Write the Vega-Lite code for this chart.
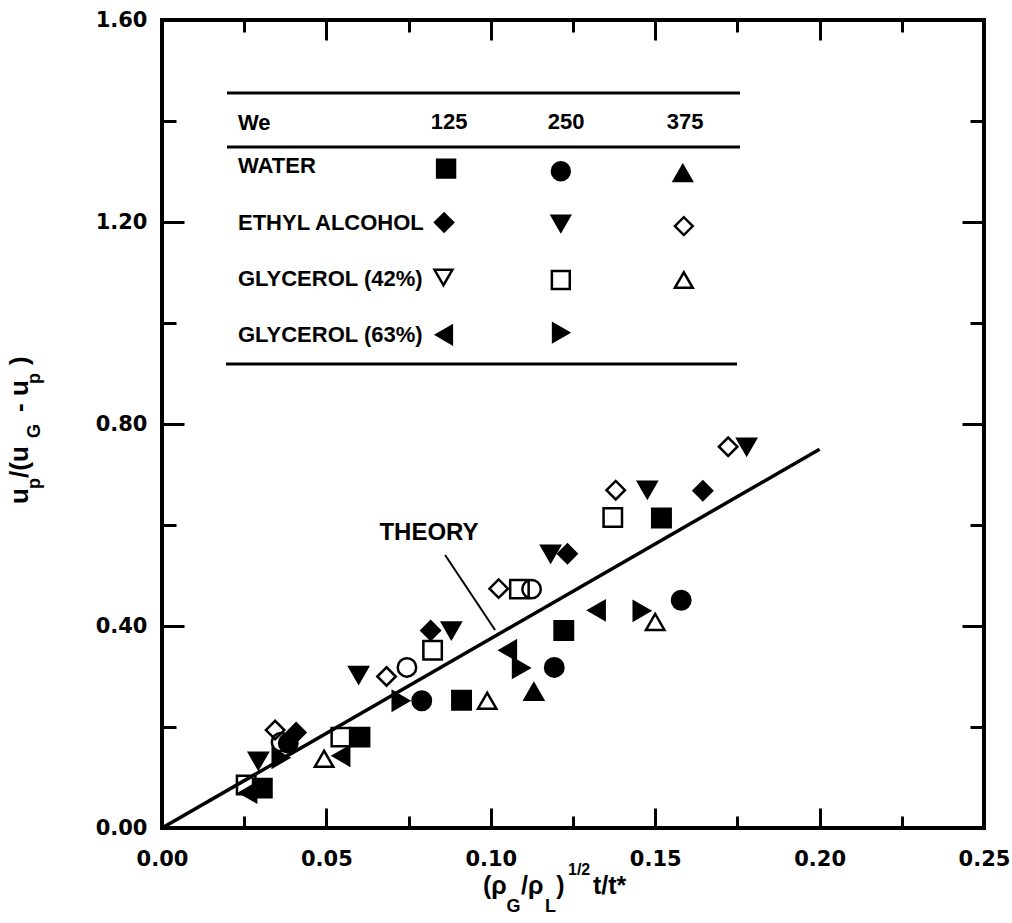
{
  "$schema": "https://vega.github.io/schema/vega-lite/v6.json",
  "width": 822,
  "height": 808,
  "autosize": "none",
  "padding": {"left": 162, "top": 20, "right": 28, "bottom": 95},
  "background": "white",
  "config": {
    "view": {"stroke": "black", "strokeWidth": 4},
    "font": "Liberation Sans"
  },
  "datasets": {
    "theory": [{"x": 0, "y": 0}, {"x": 0.2, "y": 0.75}],
    "leader": [{"x": 0.0861, "y": 0.5406}, {"x": 0.1013, "y": 0.392}],
    "obs": [
      {"series": "GLYCEROL (42%) 250", "x": 0.0256, "y": 0.085},
      {"series": "GLYCEROL (42%) 250", "x": 0.0544, "y": 0.180},
      {"series": "GLYCEROL (42%) 250", "x": 0.0823, "y": 0.352},
      {"series": "GLYCEROL (42%) 250", "x": 0.1087, "y": 0.473},
      {"series": "GLYCEROL (42%) 250", "x": 0.1371, "y": 0.615},
      {"series": "GLYCEROL (42%) 375", "x": 0.0493, "y": 0.137},
      {"series": "GLYCEROL (42%) 375", "x": 0.0989, "y": 0.252},
      {"series": "GLYCEROL (42%) 375", "x": 0.1500, "y": 0.408},
      {"series": "ETHYL ALCOHOL 375", "x": 0.0344, "y": 0.194},
      {"series": "ETHYL ALCOHOL 375", "x": 0.0683, "y": 0.300},
      {"series": "ETHYL ALCOHOL 375", "x": 0.1024, "y": 0.474},
      {"series": "ETHYL ALCOHOL 375", "x": 0.1380, "y": 0.669},
      {"series": "ETHYL ALCOHOL 375", "x": 0.1722, "y": 0.755},
      {"series": "UNLISTED", "x": 0.0362, "y": 0.170},
      {"series": "UNLISTED", "x": 0.0745, "y": 0.318},
      {"series": "UNLISTED", "x": 0.1124, "y": 0.473},
      {"series": "WATER 125", "x": 0.0305, "y": 0.079},
      {"series": "WATER 125", "x": 0.0602, "y": 0.180},
      {"series": "WATER 125", "x": 0.0911, "y": 0.253},
      {"series": "WATER 125", "x": 0.1222, "y": 0.391},
      {"series": "WATER 125", "x": 0.1519, "y": 0.614},
      {"series": "WATER 250", "x": 0.0384, "y": 0.168},
      {"series": "WATER 250", "x": 0.0790, "y": 0.252},
      {"series": "WATER 250", "x": 0.1193, "y": 0.318},
      {"series": "WATER 250", "x": 0.1579, "y": 0.451},
      {"series": "WATER 375", "x": 0.1131, "y": 0.270},
      {"series": "ETHYL ALCOHOL 125", "x": 0.0408, "y": 0.189},
      {"series": "ETHYL ALCOHOL 125", "x": 0.0817, "y": 0.391},
      {"series": "ETHYL ALCOHOL 125", "x": 0.1233, "y": 0.543},
      {"series": "ETHYL ALCOHOL 125", "x": 0.1645, "y": 0.668},
      {"series": "ETHYL ALCOHOL 250", "x": 0.0293, "y": 0.133},
      {"series": "ETHYL ALCOHOL 250", "x": 0.0598, "y": 0.303},
      {"series": "ETHYL ALCOHOL 250", "x": 0.0880, "y": 0.391},
      {"series": "ETHYL ALCOHOL 250", "x": 0.1182, "y": 0.543},
      {"series": "ETHYL ALCOHOL 250", "x": 0.1476, "y": 0.670},
      {"series": "ETHYL ALCOHOL 250", "x": 0.1778, "y": 0.755},
      {"series": "GLYCEROL (63%) 125", "x": 0.0262, "y": 0.070},
      {"series": "GLYCEROL (63%) 125", "x": 0.0545, "y": 0.143},
      {"series": "GLYCEROL (63%) 125", "x": 0.1052, "y": 0.352},
      {"series": "GLYCEROL (63%) 125", "x": 0.1322, "y": 0.431},
      {"series": "GLYCEROL (63%) 250", "x": 0.0361, "y": 0.139},
      {"series": "GLYCEROL (63%) 250", "x": 0.0726, "y": 0.252},
      {"series": "GLYCEROL (63%) 250", "x": 0.1092, "y": 0.317},
      {"series": "GLYCEROL (63%) 250", "x": 0.1459, "y": 0.430}
    ],
    "legendsyms": [
      {"series": "WATER 125", "x": 0.0864, "y": 1.3056},
      {"series": "WATER 250", "x": 0.1213, "y": 1.3006},
      {"series": "WATER 375", "x": 0.1584, "y": 1.2967},
      {"series": "ETHYL ALCOHOL 125", "x": 0.0858, "y": 1.199},
      {"series": "ETHYL ALCOHOL 250", "x": 0.1213, "y": 1.1968},
      {"series": "ETHYL ALCOHOL 375", "x": 0.1587, "y": 1.1919},
      {"series": "GLYCEROL (42%) 125", "x": 0.0856, "y": 1.0901},
      {"series": "GLYCEROL (42%) 250", "x": 0.1213, "y": 1.0851},
      {"series": "GLYCEROL (42%) 375", "x": 0.1587, "y": 1.0851},
      {"series": "GLYCEROL (63%) 125", "x": 0.0858, "y": 0.9765},
      {"series": "GLYCEROL (63%) 250", "x": 0.1213, "y": 0.9808}
    ],
    "tablerules": [
      {"x": 0.01977, "x2": 0.17579, "y": 1.4554},
      {"x": 0.01977, "x2": 0.17579, "y": 1.3485},
      {"x": 0.01947, "x2": 0.17488, "y": 0.9188}
    ],
    "rowlabels": [
      {"t": "We", "x": 0.02311, "y": 1.397},
      {"t": "WATER", "x": 0.02311, "y": 1.311},
      {"t": "ETHYL ALCOHOL", "x": 0.02311, "y": 1.199},
      {"t": "GLYCEROL (42%)", "x": 0.02311, "y": 1.087},
      {"t": "GLYCEROL (63%)", "x": 0.02311, "y": 0.977}
    ],
    "colheads": [
      {"t": "125", "x": 0.0873, "y": 1.399},
      {"t": "250", "x": 0.1229, "y": 1.399},
      {"t": "375", "x": 0.1591, "y": 1.399}
    ],
    "theorylabel": [{"t": "THEORY", "x": 0.0812, "y": 0.584}],
    "xtitle": [
      {"t": "(ρ", "role": "main", "x": 0.09763, "y": -0.1307},
      {"t": "G", "role": "sub", "x": 0.10480, "y": -0.1663},
      {"t": "/ρ", "role": "main", "x": 0.10920, "y": -0.1307},
      {"t": "L", "role": "sub", "x": 0.11650, "y": -0.1663},
      {"t": ")", "role": "main", "x": 0.11990, "y": -0.1307},
      {"t": "1/2", "role": "sup", "x": 0.12348, "y": -0.0931},
      {"t": "t/t*", "role": "main", "x": 0.13108, "y": -0.1307}
    ],
    "ytitle": [
      {"t": "u", "role": "main", "x": -0.04075, "y": 0.6416},
      {"t": "p", "role": "sub", "x": -0.0371, "y": 0.6713},
      {"t": "/(u", "role": "main", "x": -0.04075, "y": 0.6931},
      {"t": "G", "role": "sub", "x": -0.0371, "y": 0.7723},
      {"t": "- u", "role": "main", "x": -0.04075, "y": 0.8238},
      {"t": "p", "role": "sub", "x": -0.0371, "y": 0.8792},
      {"t": ")", "role": "main", "x": -0.04075, "y": 0.9168}
    ]
  },
  "layer": [
    {
      "data": {"name": "theory"},
      "mark": {"type": "line", "color": "black", "strokeWidth": 3.5},
      "encoding": {
        "x": {
          "field": "x", "type": "quantitative",
          "scale": {"domain": [0, 0.25], "nice": false, "zero": false},
          "axis": {
            "orient": "top", "title": null, "labels": false, "domain": false, "grid": false,
            "values": [0, 0.025, 0.05, 0.075, 0.1, 0.125, 0.15, 0.175, 0.2, 0.225, 0.25],
            "tickColor": "black", "tickWidth": 3,
            "tickSize": {"condition": {"test": "round(datum.value*1000) % 50 == 0", "value": -20}, "value": -12}
          }
        },
        "y": {
          "field": "y", "type": "quantitative",
          "scale": {"domain": [0, 1.6], "nice": false, "zero": false},
          "axis": {
            "orient": "right", "title": null, "labels": false, "domain": false, "grid": false,
            "values": [0, 0.2, 0.4, 0.6, 0.8, 1.0, 1.2, 1.4, 1.6],
            "tickColor": "black", "tickWidth": 3,
            "tickSize": {"condition": {"test": "round(datum.value*10) % 4 == 0", "value": -22}, "value": -14}
          }
        }
      }
    },
    {
      "data": {"name": "leader"},
      "mark": {"type": "line", "color": "black", "strokeWidth": 2},
      "encoding": {
        "x": {"field": "x", "type": "quantitative", "scale": {"domain": [0, 0.25], "nice": false, "zero": false}, "axis": null},
        "y": {"field": "y", "type": "quantitative", "scale": {"domain": [0, 1.6], "nice": false, "zero": false}, "axis": null}
      }
    },
    {
      "data": {"name": "tablerules"},
      "mark": {"type": "rule", "color": "black", "strokeWidth": 3},
      "encoding": {
        "x": {"field": "x", "type": "quantitative", "scale": {"domain": [0, 0.25], "nice": false, "zero": false}, "axis": null},
        "x2": {"field": "x2"},
        "y": {"field": "y", "type": "quantitative", "scale": {"domain": [0, 1.6], "nice": false, "zero": false}, "axis": null}
      }
    },
    {
      "data": {"name": "rowlabels"},
      "mark": {"type": "text", "align": "left", "baseline": "middle", "font": "Liberation Sans", "fontWeight": "bold", "fontSize": 22, "color": "black"},
      "encoding": {
        "x": {"field": "x", "type": "quantitative", "scale": {"domain": [0, 0.25], "nice": false, "zero": false}, "axis": null},
        "y": {"field": "y", "type": "quantitative", "scale": {"domain": [0, 1.6], "nice": false, "zero": false}, "axis": null},
        "text": {"field": "t"}
      }
    },
    {
      "data": {"name": "colheads"},
      "mark": {"type": "text", "align": "center", "baseline": "middle", "font": "Liberation Sans", "fontWeight": "bold", "fontSize": 22, "color": "black"},
      "encoding": {
        "x": {"field": "x", "type": "quantitative", "scale": {"domain": [0, 0.25], "nice": false, "zero": false}, "axis": null},
        "y": {"field": "y", "type": "quantitative", "scale": {"domain": [0, 1.6], "nice": false, "zero": false}, "axis": null},
        "text": {"field": "t"}
      }
    },
    {
      "data": {"name": "theorylabel"},
      "mark": {"type": "text", "align": "center", "baseline": "middle", "font": "Liberation Sans", "fontWeight": "bold", "fontSize": 24, "color": "black"},
      "encoding": {
        "x": {"field": "x", "type": "quantitative", "scale": {"domain": [0, 0.25], "nice": false, "zero": false}, "axis": null},
        "y": {"field": "y", "type": "quantitative", "scale": {"domain": [0, 1.6], "nice": false, "zero": false}, "axis": null},
        "text": {"field": "t"}
      }
    },
    {
      "data": {"name": "xtitle"},
      "transform": [{"filter": "datum.role == 'main'"}],
      "mark": {"type": "text", "align": "left", "baseline": "alphabetic", "font": "Liberation Sans", "fontWeight": "bold", "fontSize": 25, "color": "black"},
      "encoding": {
        "x": {"field": "x", "type": "quantitative", "scale": {"domain": [0, 0.25], "nice": false, "zero": false}, "axis": null},
        "y": {"field": "y", "type": "quantitative", "scale": {"domain": [0, 1.6], "nice": false, "zero": false}, "axis": null},
        "text": {"field": "t"}
      }
    },
    {
      "data": {"name": "xtitle"},
      "transform": [{"filter": "datum.role == 'sub'"}],
      "mark": {"type": "text", "align": "left", "baseline": "alphabetic", "font": "Liberation Sans", "fontWeight": "bold", "fontSize": 18, "color": "black"},
      "encoding": {
        "x": {"field": "x", "type": "quantitative", "scale": {"domain": [0, 0.25], "nice": false, "zero": false}, "axis": null},
        "y": {"field": "y", "type": "quantitative", "scale": {"domain": [0, 1.6], "nice": false, "zero": false}, "axis": null},
        "text": {"field": "t"}
      }
    },
    {
      "data": {"name": "xtitle"},
      "transform": [{"filter": "datum.role == 'sup'"}],
      "mark": {"type": "text", "align": "left", "baseline": "alphabetic", "font": "Liberation Sans", "fontWeight": "bold", "fontSize": 16, "color": "black"},
      "encoding": {
        "x": {"field": "x", "type": "quantitative", "scale": {"domain": [0, 0.25], "nice": false, "zero": false}, "axis": null},
        "y": {"field": "y", "type": "quantitative", "scale": {"domain": [0, 1.6], "nice": false, "zero": false}, "axis": null},
        "text": {"field": "t"}
      }
    },
    {
      "data": {"name": "ytitle"},
      "transform": [{"filter": "datum.role == 'main'"}],
      "mark": {"type": "text", "align": "left", "baseline": "alphabetic", "angle": 270, "font": "Liberation Sans", "fontWeight": "bold", "fontSize": 26, "color": "black"},
      "encoding": {
        "x": {"field": "x", "type": "quantitative", "scale": {"domain": [0, 0.25], "nice": false, "zero": false}, "axis": null},
        "y": {"field": "y", "type": "quantitative", "scale": {"domain": [0, 1.6], "nice": false, "zero": false}, "axis": null},
        "text": {"field": "t"}
      }
    },
    {
      "data": {"name": "ytitle"},
      "transform": [{"filter": "datum.role == 'sub'"}],
      "mark": {"type": "text", "align": "left", "baseline": "alphabetic", "angle": 270, "font": "Liberation Sans", "fontWeight": "bold", "fontSize": 18, "color": "black"},
      "encoding": {
        "x": {"field": "x", "type": "quantitative", "scale": {"domain": [0, 0.25], "nice": false, "zero": false}, "axis": null},
        "y": {"field": "y", "type": "quantitative", "scale": {"domain": [0, 1.6], "nice": false, "zero": false}, "axis": null},
        "text": {"field": "t"}
      }
    },
    {
      "data": {"name": "legendsyms"},
      "mark": {"type": "point", "filled": true, "stroke": "black", "strokeWidth": 2.5, "opacity": 1, "size": 320},
      "encoding": {
        "x": {"field": "x", "type": "quantitative", "scale": {"domain": [0, 0.25], "nice": false, "zero": false}, "axis": null},
        "y": {"field": "y", "type": "quantitative", "scale": {"domain": [0, 1.6], "nice": false, "zero": false}, "axis": null},
        "shape": {"field": "series", "type": "nominal", "legend": null,
          "scale": {"domain": ["WATER 125", "WATER 250", "WATER 375", "ETHYL ALCOHOL 125", "ETHYL ALCOHOL 250", "ETHYL ALCOHOL 375", "GLYCEROL (42%) 125", "GLYCEROL (42%) 250", "GLYCEROL (42%) 375", "GLYCEROL (63%) 125", "GLYCEROL (63%) 250", "UNLISTED"],
                    "range": ["square", "circle", "triangle-up", "diamond", "triangle-down", "diamond", "triangle-down", "square", "triangle-up", "triangle-left", "triangle-right", "circle"]}},
        "fill": {"field": "series", "type": "nominal", "legend": null,
          "scale": {"domain": ["WATER 125", "WATER 250", "WATER 375", "ETHYL ALCOHOL 125", "ETHYL ALCOHOL 250", "ETHYL ALCOHOL 375", "GLYCEROL (42%) 125", "GLYCEROL (42%) 250", "GLYCEROL (42%) 375", "GLYCEROL (63%) 125", "GLYCEROL (63%) 250", "UNLISTED"],
                    "range": ["black", "black", "black", "black", "black", "transparent", "transparent", "transparent", "transparent", "black", "black", "transparent"]}}
      }
    },
    {
      "data": {"name": "obs"},
      "mark": {"type": "point", "filled": true, "stroke": "black", "strokeWidth": 2.5, "opacity": 1, "size": 340},
      "encoding": {
        "x": {
          "field": "x", "type": "quantitative",
          "scale": {"domain": [0, 0.25], "nice": false, "zero": false},
          "axis": {
            "orient": "bottom", "title": null, "domain": false, "grid": false,
            "values": [0, 0.025, 0.05, 0.075, 0.1, 0.125, 0.15, 0.175, 0.2, 0.225, 0.25],
            "labelExpr": "round(datum.value*1000) % 50 == 0 ? format(datum.value, '.2f') : ''",
            "labelFont": "DejaVu Sans", "labelFontWeight": "bold", "labelFontSize": 21, "labelColor": "black",
            "labelPadding": 40, "labelFlush": false, "labelOverlap": false, "labelBound": false,
            "tickColor": "black", "tickWidth": 3,
            "tickSize": {"condition": {"test": "round(datum.value*1000) % 50 == 0", "value": -20}, "value": -12}
          }
        },
        "y": {
          "field": "y", "type": "quantitative",
          "scale": {"domain": [0, 1.6], "nice": false, "zero": false},
          "axis": {
            "orient": "left", "title": null, "domain": false, "grid": false,
            "values": [0, 0.2, 0.4, 0.6, 0.8, 1.0, 1.2, 1.4, 1.6],
            "labelExpr": "round(datum.value*10) % 4 == 0 ? format(datum.value, '.2f') : ''",
            "labelFont": "DejaVu Sans", "labelFontWeight": "bold", "labelFontSize": 21, "labelColor": "black",
            "labelPadding": 37, "labelFlush": false, "labelOverlap": false, "labelBound": false,
            "tickColor": "black", "tickWidth": 3,
            "tickSize": {"condition": {"test": "round(datum.value*10) % 4 == 0", "value": -22}, "value": -14}
          }
        },
        "shape": {"field": "series", "type": "nominal", "legend": null,
          "scale": {"domain": ["WATER 125", "WATER 250", "WATER 375", "ETHYL ALCOHOL 125", "ETHYL ALCOHOL 250", "ETHYL ALCOHOL 375", "GLYCEROL (42%) 125", "GLYCEROL (42%) 250", "GLYCEROL (42%) 375", "GLYCEROL (63%) 125", "GLYCEROL (63%) 250", "UNLISTED"],
                    "range": ["square", "circle", "triangle-up", "diamond", "triangle-down", "diamond", "triangle-down", "square", "triangle-up", "triangle-left", "triangle-right", "circle"]}},
        "fill": {"field": "series", "type": "nominal", "legend": null,
          "scale": {"domain": ["WATER 125", "WATER 250", "WATER 375", "ETHYL ALCOHOL 125", "ETHYL ALCOHOL 250", "ETHYL ALCOHOL 375", "GLYCEROL (42%) 125", "GLYCEROL (42%) 250", "GLYCEROL (42%) 375", "GLYCEROL (63%) 125", "GLYCEROL (63%) 250", "UNLISTED"],
                    "range": ["black", "black", "black", "black", "black", "transparent", "transparent", "transparent", "transparent", "black", "black", "transparent"]}}
      }
    }
  ],
  "resolve": {"axis": {"x": "independent", "y": "independent"}}
}
